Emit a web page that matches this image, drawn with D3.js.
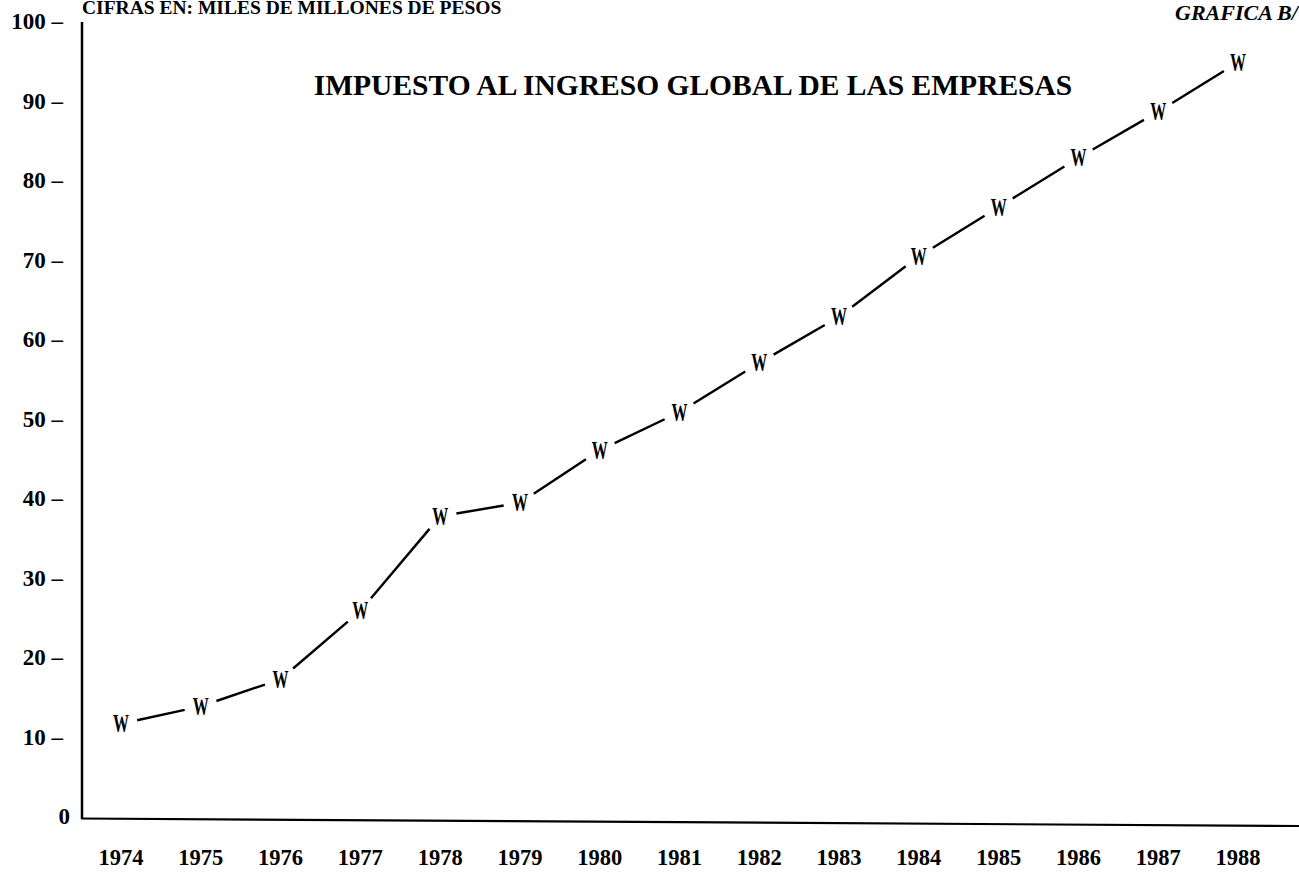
<!DOCTYPE html>
<html><head><meta charset="utf-8">
<script src="https://cdn.jsdelivr.net/npm/d3@7"></script>
<style>body{margin:0;background:#fff}svg{display:block}text{font-family:"Liberation Serif","Times New Roman",serif;font-weight:bold;fill:#000}</style>
</head><body><svg id="c" width="1299" height="874"></svg>
<script>
const years = ["1974","1975","1976","1977","1978","1979","1980","1981","1982","1983","1984","1985","1986","1987","1988"];
const values = [11.6,13.8,17.2,25.8,37.7,39.4,46.0,50.8,57.0,62.8,70.4,76.6,82.8,88.6,94.8];
const yTicks = [0,10,20,30,40,50,60,70,80,90,100];
const title = "IMPUESTO AL INGRESO GLOBAL DE LAS EMPRESAS";
const units = "CIFRAS EN: MILES DE MILLONES DE PESOS";
const tag = "GRAFICA B/";

const svg = d3.select("#c");
const y = d3.scaleLinear().domain([0,100]).range([816,21]);
const x = d3.scalePoint().domain(years).range([121,1238]);

// axes lines
svg.append("line").attr("x1",82).attr("x2",82).attr("y1",22).attr("y2",y(0)+3)
  .attr("stroke","#000").attr("stroke-width",2.5);
svg.append("line").attr("x1",81).attr("x2",1299).attr("y1",y(0)+2.5).attr("y2",y(0)+10)
  .attr("stroke","#000").attr("stroke-width",2.2);

// y tick labels
svg.selectAll("text.yt").data(yTicks).enter().append("text").attr("class","yt")
  .attr("x",d=>d===0?70:63).attr("y",d=>y(d)).attr("dy","0.35em")
  .attr("text-anchor","end").attr("font-size",23)
  .text(d=>d===0?"0":d+" \u2013");

// x labels
svg.selectAll("text.xt").data(years).enter().append("text").attr("class","xt")
  .attr("x",d=>x(d)).attr("y",865).attr("text-anchor","middle").attr("font-size",22.5)
  .text(d=>d);

// line segments trimmed at markers
const pts = years.map((yr,i)=>[x(yr),y(values[i])]);
const gap = 16.5;
for(let i=0;i<pts.length-1;i++){
  const [x1,y1]=pts[i],[x2,y2]=pts[i+1];
  const dx=x2-x1,dy=y2-y1,L=Math.hypot(dx,dy),ux=dx/L,uy=dy/L;
  svg.append("line").attr("x1",x1+ux*gap).attr("y1",y1+uy*gap)
    .attr("x2",x2-ux*gap).attr("y2",y2-uy*gap)
    .attr("stroke","#000").attr("stroke-width",2.4);
}
svg.selectAll("g.mk").data(pts).enter().append("g").attr("class","mk")
  .attr("transform",d=>`translate(${d[0]},${d[1]}) scale(0.64,1)`)
  .append("text").attr("dy","0.34em").attr("text-anchor","middle")
  .attr("font-size",25).text("W");

// titles
svg.append("text").attr("x",82).attr("y",14).attr("font-size",19.5).text(units);
svg.append("text").attr("x",693).attr("y",95).attr("text-anchor","middle").attr("font-size",29.5).text(title);
svg.append("text").attr("x",1175).attr("y",20).attr("font-size",22).attr("font-style","italic").text(tag);
</script></body></html>
